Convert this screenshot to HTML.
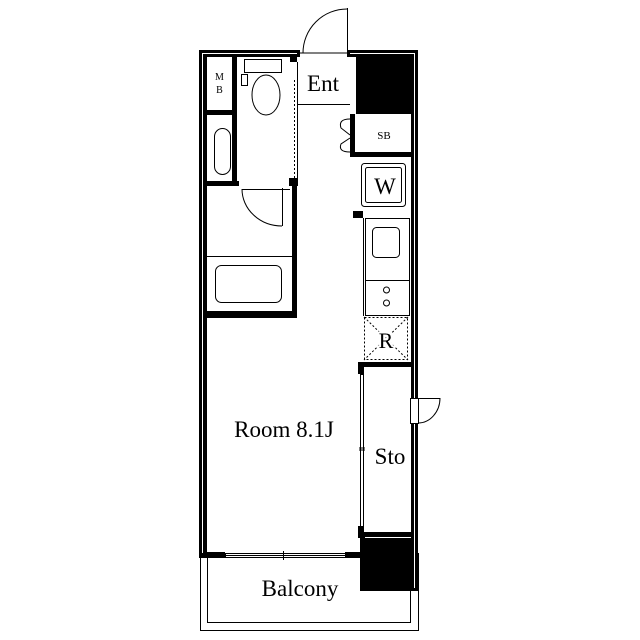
<!DOCTYPE html>
<html><head><style>html,body{margin:0;padding:0;background:#fff}svg{display:block}</style></head><body>
<svg width="640" height="640" viewBox="0 0 640 640" xmlns="http://www.w3.org/2000/svg" font-family="Liberation Serif, serif">
<rect width="640" height="640" fill="#fff"/>
<!-- balcony -->
<rect x="200.5" y="553.5" width="218" height="77" fill="none" stroke="#000" stroke-width="1"/>
<polyline points="207.5,556 207.5,622.5 410.5,622.5 410.5,590" fill="none" stroke="#000"/>
<!-- outer walls -->
<g fill="#000">
<rect x="199" y="50" width="101" height="7"/>
<rect x="347" y="50" width="71" height="7"/>
<rect x="199" y="50" width="8" height="508"/>
<rect x="411" y="50" width="7" height="348"/>
<rect x="411" y="424" width="7" height="167"/>
<rect x="360" y="585" width="58" height="6"/>
<rect x="199" y="552" width="26" height="6"/>
<rect x="345" y="552" width="20" height="6"/>
<rect x="360" y="532" width="5" height="58"/>
<rect x="356" y="56" width="56" height="58"/>
<rect x="365" y="538" width="47" height="47"/>
<rect x="232" y="56" width="5" height="130"/>
<rect x="206" y="110" width="31" height="5"/>
<rect x="206" y="181" width="33" height="5"/>
<rect x="290" y="56" width="7" height="6"/>
<rect x="289" y="178" width="8" height="8"/>
<rect x="292" y="186" width="5" height="132"/>
<rect x="206" y="311" width="91" height="7"/>
<rect x="350" y="114" width="5" height="41"/>
<rect x="350" y="152" width="62" height="5"/>
<rect x="353" y="211" width="10" height="7"/>
<rect x="358" y="362" width="6" height="12"/>
<rect x="358" y="526" width="6" height="12"/>
<rect x="364" y="362" width="48" height="5"/>
<rect x="364" y="532" width="48" height="5"/>
</g>
<g fill="none" stroke="#fff" stroke-width="1">
<polyline points="202.5,553 202.5,53.5 297,53.5"/>
<polyline points="350,53.5 414.5,53.5 414.5,398"/>
<line x1="414.5" y1="424" x2="414.5" y2="588"/>
</g>
<!-- entry door -->
<line x1="300" y1="53" x2="347" y2="53" stroke="#000"/>
<line x1="347.5" y1="8" x2="347.5" y2="56" stroke="#000"/>
<path d="M347,9 A44,44 0 0 0 303,53" fill="none" stroke="#000"/>
<line x1="297" y1="104.5" x2="350" y2="104.5" stroke="#000"/>
<text x="323" y="91" font-size="23" text-anchor="middle">Ent</text>
<text x="219.5" y="80" font-size="10" text-anchor="middle">M</text>
<text x="219.5" y="93" font-size="10" text-anchor="middle">B</text>
<!-- toilet -->
<rect x="244.5" y="59.5" width="37" height="13" fill="none" stroke="#000"/>
<rect x="241.5" y="74.5" width="6" height="11" fill="none" stroke="#000"/>
<ellipse cx="266" cy="95" rx="14" ry="20" fill="#fff" stroke="#000"/>
<line x1="294.5" y1="80" x2="294.5" y2="178" stroke="#000" stroke-dasharray="2,2"/>
<line x1="297.5" y1="62" x2="297.5" y2="186" stroke="#000"/>
<rect x="214.5" y="128.5" width="16" height="46" rx="8" fill="none" stroke="#000"/>
<!-- bathroom -->
<line x1="242" y1="189.5" x2="290" y2="189.5" stroke="#000"/>
<line x1="282.5" y1="188" x2="282.5" y2="226" stroke="#000"/>
<path d="M242,189 A40,37 0 0 0 282,226" fill="none" stroke="#000"/>
<line x1="206" y1="256.5" x2="292" y2="256.5" stroke="#000"/>
<rect x="215.5" y="265.5" width="66" height="37" rx="6" fill="none" stroke="#000"/>
<!-- SB -->
<text x="384" y="139" font-size="11" text-anchor="middle">SB</text>
<path d="M350,119 Q338,119 341,128 L350,135 M350,138 L341,144 Q338,152 350,152" fill="none" stroke="#000"/>
<!-- W -->
<rect x="361.5" y="163.5" width="44" height="43" rx="3" fill="none" stroke="#000"/>
<rect x="365.5" y="167.5" width="36" height="35" rx="2" fill="none" stroke="#000"/>
<text x="385" y="194" font-size="23" text-anchor="middle">W</text>
<!-- kitchen -->
<rect x="365.5" y="218.5" width="44" height="97" fill="none" stroke="#000"/>
<line x1="363.5" y1="218" x2="363.5" y2="316" stroke="#000"/>
<rect x="372.5" y="227.5" width="27" height="30" rx="4" fill="none" stroke="#000"/>
<line x1="365" y1="280.5" x2="410" y2="280.5" stroke="#000"/>
<circle cx="386.5" cy="290" r="3" fill="none" stroke="#000"/>
<circle cx="386.5" cy="303" r="3" fill="none" stroke="#000"/>
<rect x="364.5" y="317.5" width="43" height="42" fill="none" stroke="#000" stroke-dasharray="2,2"/>
<path d="M364,317 L408,360 M408,317 L364,360" stroke="#000" stroke-dasharray="2,2"/>
<text x="386" y="348" font-size="22" text-anchor="middle" fill="#fff" stroke="#fff" stroke-width="4">R</text>
<text x="386" y="348" font-size="22" text-anchor="middle">R</text>
<!-- Sto -->
<rect x="360.5" y="374.5" width="3" height="152" fill="none" stroke="#000"/>
<line x1="359" y1="448" x2="365" y2="448" stroke="#000"/>
<line x1="359" y1="450" x2="365" y2="450" stroke="#000"/>
<text x="390" y="464" font-size="23" text-anchor="middle">Sto</text>
<rect x="410.5" y="398.5" width="8" height="25" fill="#fff" stroke="#000"/>
<line x1="418" y1="398.5" x2="440" y2="398.5" stroke="#000"/>
<path d="M440,398 A22,25 0 0 1 418,423" fill="none" stroke="#000"/>
<text x="284" y="437" font-size="23" text-anchor="middle">Room 8.1J</text>
<!-- window -->
<rect x="225.5" y="553.5" width="120" height="4" fill="none" stroke="#000"/>
<line x1="225" y1="555.5" x2="345" y2="555.5" stroke="#000"/>
<line x1="283.5" y1="551" x2="283.5" y2="560" stroke="#000"/>
<text x="300" y="596" font-size="23" text-anchor="middle">Balcony</text>
</svg>
</body></html>
